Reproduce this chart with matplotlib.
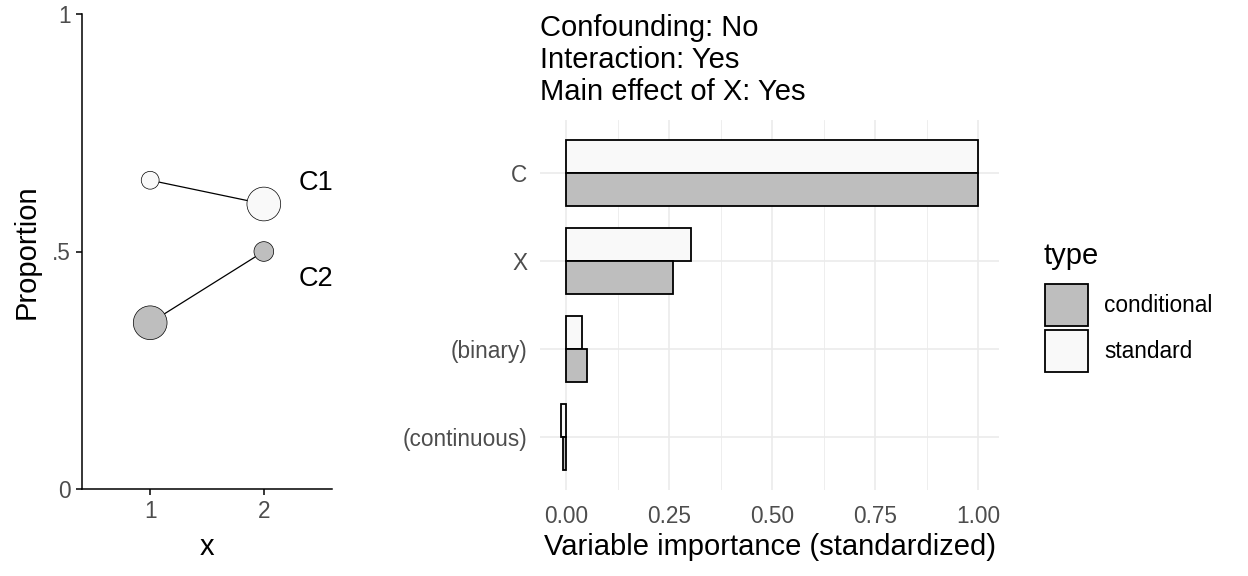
import matplotlib
matplotlib.use("Agg")
import matplotlib.pyplot as plt
from matplotlib.patches import Patch
from matplotlib.ticker import MultipleLocator
import numpy as np

plt.rcParams['font.family'] = ['Liberation Sans', 'DejaVu Sans']

# left panel: proportions by x for the two groups
x_vals = [1, 2]
groups = ["C1", "C2"]
prop = {"C1": [0.65, 0.60], "C2": [0.35, 0.50]}
weight = {"C1": [0.28, 1.0], "C2": [1.0, 0.34]}
group_fill = {"C1": "#F9F9F9", "C2": "#BEBEBE"}
label_y = {"C1": 0.645, "C2": 0.443}

# right panel: variable importance
variables = ["C", "X", "(binary)", "(continuous)"]
imp_standard = [1.00, 0.303, 0.039, -0.012]
imp_conditional = [1.00, 0.26, 0.051, -0.008]
types = ["conditional", "standard"]
type_fill = {"conditional": "#BEBEBE", "standard": "#F9F9F9"}
title_lines = ["Confounding: No", "Interaction: Yes", "Main effect of X: Yes"]

W, H = 1248, 576
fig = plt.figure(figsize=(W / 100, H / 100), dpi=100)

def px_axes(l, t, r, b):
    return fig.add_axes([l / W, 1 - b / H, (r - l) / W, (b - t) / H])

tick_grey = "#4D4D4D"
big = 21.0
small = 16.3

# ---- left panel
ax1 = px_axes(82, 14, 332, 489)
for g in groups:
    ax1.plot(x_vals, prop[g], color="black", lw=0.9, zorder=2)
    ax1.scatter(x_vals, prop[g], s=np.array(weight[g]) * 590, c=group_fill[g],
                edgecolors="black", linewidths=0.5, zorder=3)
    ax1.text(2.31, label_y[g], g, fontsize=19.5, va="center", ha="left")
ax1.set_xlim(0.4, 2.6)
ax1.set_ylim(0, 1)
ax1.set_xticks(x_vals)
ax1.set_yticks([0, 0.5, 1])
ax1.set_yticklabels(["0", ".5", "1"])
for s in ["top", "right"]:
    ax1.spines[s].set_visible(False)
for s in ["left", "bottom"]:
    ax1.spines[s].set_linewidth(1.1)
ax1.tick_params(length=4, width=1.1, colors="black", labelcolor=tick_grey,
                labelsize=small, pad=4)
ax1.set_xlabel("x", fontsize=big, labelpad=7)
ax1.set_ylabel("Proportion", fontsize=big, labelpad=8)

# ---- right panel
ax2 = px_axes(540, 120, 999, 490)
ypos = np.arange(len(variables))[::-1]
bh = 0.375
ax2.barh(ypos + bh / 2, imp_standard, height=bh, color=type_fill["standard"],
         edgecolor="black", linewidth=1.3, zorder=3)
ax2.barh(ypos - bh / 2, imp_conditional, height=bh, color=type_fill["conditional"],
         edgecolor="black", linewidth=1.3, zorder=3)
ax2.set_ylim(-0.6, len(variables) - 0.4)
ax2.set_xlim(-0.063, 1.05)
ax2.set_yticks(ypos)
ax2.set_yticklabels(variables)
ax2.xaxis.set_major_locator(MultipleLocator(0.25))
ax2.xaxis.set_minor_locator(MultipleLocator(0.125))
ax2.xaxis.set_major_formatter(matplotlib.ticker.FormatStrFormatter("%.2f"))
ax2.grid(True, which="major", color="#EBEBEB", lw=1.2, zorder=0)
ax2.grid(True, which="minor", axis="x", color="#EBEBEB", lw=0.6, zorder=0)
ax2.set_axisbelow(True)
for s in ax2.spines.values():
    s.set_visible(False)
ax2.tick_params(which="both", length=0, labelcolor=tick_grey, labelsize=small)
ax2.tick_params(axis="y", pad=9)
ax2.tick_params(axis="x", pad=10.5)
ax2.set_xlabel("Variable importance (standardized)", fontsize=big, labelpad=4)
fig.text(540 / W, 1 - 14 / H, "\n".join(title_lines), fontsize=big,
         ha="left", va="top", linespacing=1.19)

# legend
fig.text(1043 / W, 1 - 256 / H, "type", fontsize=big, ha="left", va="center")
handles = [Patch(facecolor=type_fill[t], edgecolor="black", linewidth=1.3) for t in types]
leg = fig.legend(handles, types, loc="upper left",
                 bbox_to_anchor=(1045 / W, 1 - 284 / H), frameon=False,
                 fontsize=small, handlelength=1.9, handleheight=2.5,
                 labelspacing=0.16, handletextpad=0.71, borderpad=0,
                 borderaxespad=0)

fig.savefig("out.png", dpi=100)
